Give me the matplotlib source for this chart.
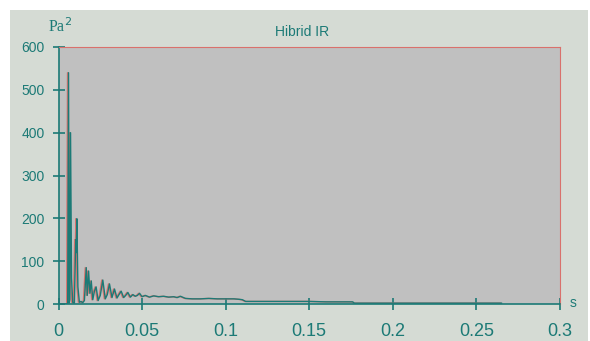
import matplotlib
matplotlib.use("Agg")
import matplotlib.pyplot as plt
import matplotlib.transforms as mtransforms
from matplotlib.patches import Rectangle
from matplotlib import font_manager

# ---- data ----
t = [0.0, 0.0055, 0.0060, 0.0064, 0.0068, 0.0072, 0.0078, 0.0085, 0.0095,
     0.0103, 0.0106, 0.0110, 0.0116, 0.0125, 0.0135, 0.0145, 0.0155, 0.0166,
     0.0172, 0.0180, 0.0188, 0.0196, 0.0205, 0.0215, 0.0225, 0.0237, 0.0250,
     0.0265, 0.0280, 0.0292, 0.0305, 0.0320, 0.0335, 0.0350, 0.0362, 0.0375,
     0.0390, 0.0402, 0.0415, 0.0430, 0.0445, 0.0460, 0.0472, 0.0485, 0.0500,
     0.0520, 0.0545, 0.0570, 0.0600, 0.0630, 0.0660, 0.0690, 0.0710, 0.0730,
     0.0760, 0.0800, 0.0850, 0.0900, 0.0950, 0.1000, 0.1050, 0.1080, 0.1100,
     0.1120, 0.1200, 0.1300, 0.1350, 0.1400, 0.1500, 0.1600, 0.1700, 0.1760,
     0.1770, 0.1900, 0.2100, 0.2300, 0.2500, 0.2650]
p = [0, 0, 540, 2, 10, 400, 60, 4, 2,
     150, 120, 199, 40, 4, 6, 3, 8, 85,
     20, 77, 25, 54, 10, 30, 40, 8, 20,
     56, 12, 22, 47, 15, 35, 14, 22, 30,
     15, 20, 27, 16, 22, 18, 20, 25, 17,
     20, 16, 19, 17, 18, 16, 17, 15, 18,
     13, 12, 12, 13, 12, 12, 12, 11, 10,
     6, 6, 6, 6, 6, 6, 5, 5, 5,
     2, 2, 2, 2, 2, 2]

xticks = [0, 0.05, 0.1, 0.15, 0.2, 0.25, 0.3]
xticklabels = ["0", "0.05", "0.1", "0.15", "0.2", "0.25", "0.3"]
yticks = [0, 100, 200, 300, 400, 500, 600]
title = "Hibrid IR"

# ---- style ----
teal = "#1c7a76"
red = "#d9716c"
panel = "#d5dbd4"
face = "#c0c0c0"

names = {f.name for f in font_manager.fontManager.ttflist}
narrow = "Liberation Sans Narrow" if "Liberation Sans Narrow" in names else "Liberation Sans"

W, H = 590, 341
fig = plt.figure(figsize=(W / 100, H / 100), dpi=100)
fig.patch.set_facecolor("white")
fig.add_artist(Rectangle((10 / W, 0), 578 / W, 331 / H, transform=fig.transFigure,
                         facecolor=panel, edgecolor="none", zorder=-10))

left, right, bottom, top = 58.5 / W, 560 / W, (H - 304) / H, (H - 47) / H
ax = fig.add_axes([left, bottom, right - left, top - bottom])
ax.set_facecolor(face)

shift = mtransforms.offset_copy(ax.transData, fig=fig, x=-1.0, y=0, units="dots")
ax.plot(t, p, color=red, lw=1.0, transform=shift, zorder=2)
ax.plot(t, p, color=teal, lw=1.0, zorder=3)

ax.set_xlim(0, 0.3)
ax.set_ylim(0, 600)
ax.set_xticks(xticks)
ax.set_xticklabels(xticklabels)
ax.set_yticks(yticks)

for s in ["left", "bottom"]:
    ax.spines[s].set_color(teal)
    ax.spines[s].set_linewidth(1.2)
for s in ["top", "right"]:
    ax.spines[s].set_color(red)
    ax.spines[s].set_linewidth(0.8)

ax.tick_params(axis="both", direction="inout", length=8, width=1.2, color=teal)
ax.tick_params(axis="x", pad=10, labelsize=13, labelcolor=teal)
ax.tick_params(axis="y", pad=6, labelsize=10, labelcolor=teal)
for lab in ax.get_xticklabels():
    lab.set_fontfamily(narrow)
for lab in ax.get_yticklabels():
    lab.set_fontfamily("Liberation Sans")

fig.text(302 / W, 1 - 32 / H, title, ha="center", va="center", fontsize=10,
         color=teal, family="Liberation Sans")
fig.text(48 / W, 1 - 27 / H, "Pa$^2$", ha="left", va="center", fontsize=11.5,
         color=teal, family="Liberation Serif")
fig.text(573 / W, 1 - 303 / H, "s", ha="center", va="center", fontsize=10,
         color=teal, family="Liberation Sans")

fig.savefig("out.png", dpi=100)
